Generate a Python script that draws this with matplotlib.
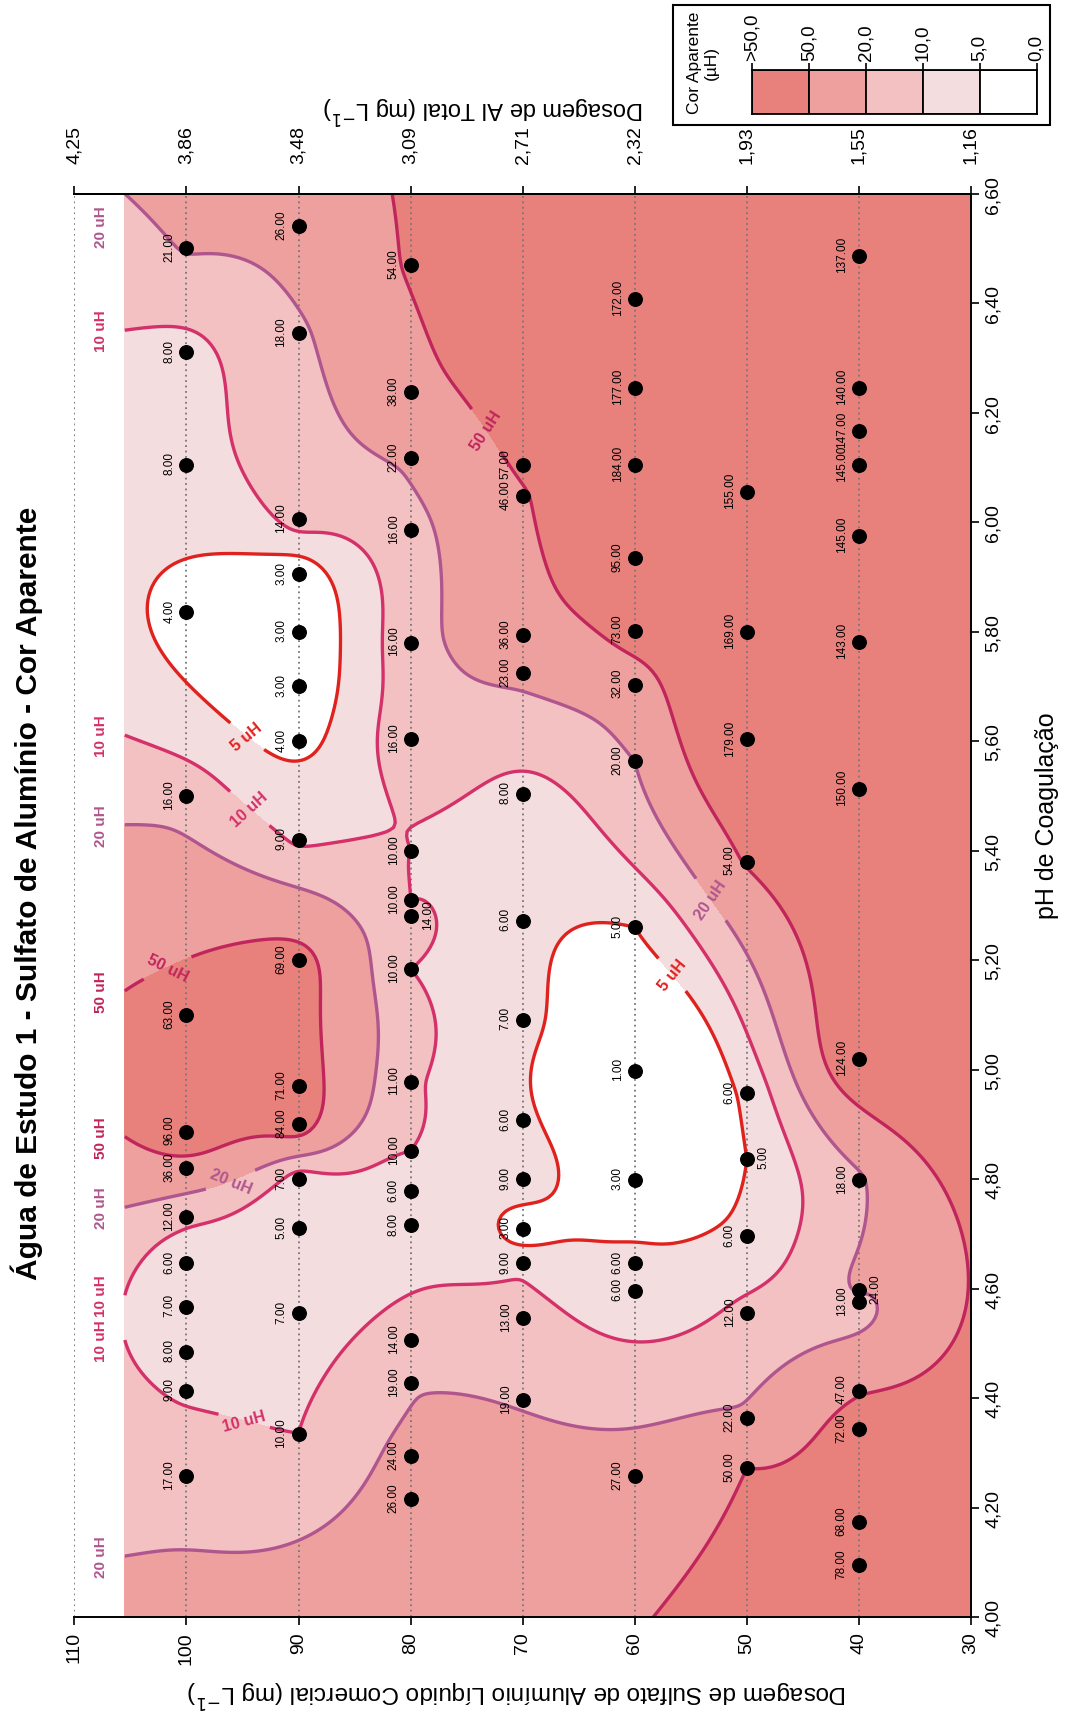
import numpy as np
import matplotlib
matplotlib.use("Agg")
import matplotlib.pyplot as plt
from matplotlib.patches import Rectangle

# ---------------- data ----------------
dose_100_ph = [6.50, 6.31, 6.105, 5.835, 5.50, 5.10, 4.887, 4.82, 4.73, 4.646, 4.567, 4.485, 4.414, 4.257]
dose_100_val = [21, 8, 8, 4, 16, 63, 96, 36, 12, 6, 7, 8, 9, 17]

dose_90_ph = [6.54, 6.345, 6.005, 5.905, 5.80, 5.70, 5.60, 5.42, 5.20, 4.97, 4.90, 4.80, 4.71, 4.555, 4.335]
dose_90_val = [26, 18, 14, 3, 3, 3, 4, 9, 69, 71, 84, 7, 5, 7, 10]

dose_80_ph = [6.47, 6.237, 6.117, 5.985, 5.78, 5.604, 5.40, 5.31, 5.281, 5.183, 4.978, 4.851, 4.778, 4.716,
              4.506, 4.427, 4.294, 4.216]
dose_80_val = [54, 38, 22, 16, 16, 16, 10, 10, 14, 10, 11, 10, 6, 8, 14, 19, 24, 26]

dose_70_ph = [6.105, 6.047, 5.794, 5.724, 5.504, 5.272, 5.091, 4.908, 4.80, 4.709, 4.646, 4.546, 4.397]
dose_70_val = [57, 46, 36, 23, 8, 6, 7, 6, 9, 3, 9, 13, 19]

dose_60_ph = [6.408, 6.245, 6.105, 5.934, 5.802, 5.703, 5.563, 5.26, 4.998, 4.799, 4.647, 4.596, 4.257]
dose_60_val = [172, 177, 184, 95, 73, 32, 20, 5, 1, 3, 6, 6, 27]

dose_50_ph = [6.055, 5.80, 5.603, 5.38, 4.957, 4.837, 4.696, 4.555, 4.364, 4.273]
dose_50_val = [155, 169, 179, 54, 6, 5, 6, 12, 22, 50]

dose_40_ph = [6.486, 6.245, 6.167, 6.105, 5.975, 5.781, 5.513, 5.02, 4.799, 4.598, 4.576, 4.414, 4.344,
              4.173, 4.095]
dose_40_val = [137, 140, 147, 145, 145, 143, 150, 124, 18, 24, 13, 47, 72, 68, 78]

dose_ticks = [30, 40, 50, 60, 70, 80, 90, 100, 110]
al_labels = ["1,16", "1,55", "1,93", "2,32", "2,71", "3,09", "3,48", "3,86", "4,25"]
ph_ticks = [4.0, 4.2, 4.4, 4.6, 4.8, 5.0, 5.2, 5.4, 5.6, 5.8, 6.0, 6.2, 6.4, 6.6]
ph_labels = ["4,00", "4,20", "4,40", "4,60", "4,80", "5,00", "5,20", "5,40", "5,60", "5,80",
             "6,00", "6,20", "6,40", "6,60"]
contour_levels = [5, 10, 20, 50]
legend_labels = [">50,0", "50,0", "20,0", "10,0", "5,0", "0,0"]

fill_colors = ["#FFFFFF", "#F3DDDE", "#F3C1C2", "#EEA09F", "#E8807C"]
line_colors = ["#E0221F", "#D4306A", "#B0568E", "#C0265C"]

# value labels drawn on the right-hand side of their point (style only)
labels_on_right = {(80, 5.281), (40, 4.598), (50, 4.837)}

FONT = ["Liberation Sans Narrow", "Liberation Sans", "DejaVu Sans"]
plt.rcParams["font.family"] = FONT

# ---------------- assemble points ----------------
groups = [(100, dose_100_ph, dose_100_val), (90, dose_90_ph, dose_90_val), (80, dose_80_ph, dose_80_val),
          (70, dose_70_ph, dose_70_val), (60, dose_60_ph, dose_60_val), (50, dose_50_ph, dose_50_val),
          (40, dose_40_ph, dose_40_val)]
D = np.concatenate([[d] * len(p) for d, p, v in groups]).astype(float)
P = np.concatenate([p for d, p, v in groups]).astype(float)
V = np.concatenate([v for d, p, v in groups]).astype(float)


def to_uv(d, p):
    return np.column_stack([np.ravel(d) * (897.0 / 80.0) / 1424.0, np.ravel(p) / 2.6])


# ordinary kriging, linear variogram (on log10 values)
X = to_uv(D, P)
n = len(X)
G = np.sqrt(((X[:, None, :] - X[None, :, :]) ** 2).sum(-1))
A = np.zeros((n + 1, n + 1))
A[:n, :n] = G
A[:n, n] = 1
A[n, :n] = 1
sol = np.linalg.solve(A, np.append(np.log10(V), 0.0))
w, c0 = sol[:n], sol[n]

gd = np.linspace(30, 105.5, 320)
gp = np.linspace(4.0, 6.6, 320)
GD, GP = np.meshgrid(gd, gp)
Xg = to_uv(GD, GP)
Gg = np.sqrt(((Xg[:, None, :] - X[None, :, :]) ** 2).sum(-1))
Z = (Gg @ w + c0).reshape(GD.shape)

# ---------------- figure ----------------
fig = plt.figure(figsize=(10.65, 17.15), dpi=100)
ax = fig.add_axes([74.4 / 1065, 1 - 1618.2 / 1715, (970.9 - 74.4) / 1065, (1618.2 - 194.6) / 1715])

lv = np.log10(contour_levels)
ax.contourf(GD, GP, Z, levels=np.concatenate([[-10], lv, [10]]), colors=fill_colors, zorder=0)

for d in dose_ticks[1:]:
    ax.plot([d, d], [4.0, 6.6], ls=(0, (1, 2)), color="#777777", lw=1.3, zorder=1)

cs = ax.contour(GD, GP, Z, levels=lv, colors=line_colors, linewidths=2.4, zorder=2)
fmt = {lev: f"{c} uH" for lev, c in zip(cs.levels, contour_levels)}
cl = ax.clabel(cs, fmt=fmt, fontsize=11.5, inline=True, inline_spacing=4)
for t in cl:
    t.set_fontweight("bold")

# edge labels at the open (high dosage) border
for i, segs in enumerate(cs.allsegs):
    for seg in segs:
        for end in (seg[0], seg[-1]):
            if abs(end[0] - gd.max()) < 1e-6:
                ypos = min(max(end[1], 4.06), 6.54)
                ax.text(107.6, ypos, f"{contour_levels[i]} uH", rotation=90, color=line_colors[i],
                        ha="center", va="center", fontsize=11, fontweight="bold", zorder=4)

ax.scatter(D, P, s=95, color="black", zorder=3)
for d, p, v in zip(D, P, V):
    dx = 17 if (int(d), round(p, 3)) in labels_on_right else -17
    ax.annotate(f"{v:.2f}", (d, p), xytext=(dx, 2), textcoords="offset pixels", rotation=90,
                ha="center", va="center", fontsize=8.5, zorder=4)

ax.set_xlim(110, 30)
ax.set_ylim(4.0, 6.6)
ax.set_xticks(dose_ticks, labels=[str(t) for t in dose_ticks])
ax.yaxis.tick_right()
ax.set_yticks(ph_ticks, labels=ph_labels)
ax.tick_params(axis="x", rotation=90, labelsize=14, length=6, width=1.2, pad=4)
ax.tick_params(axis="y", rotation=90, labelsize=14, length=6, width=1.2, pad=4)
for lab in ax.get_yticklabels():
    lab.set_va("center")
ax.spines["left"].set_visible(False)
for s in ("top", "bottom", "right"):
    ax.spines[s].set_linewidth(1.4)

sec = ax.secondary_xaxis("top")
sec.set_xticks(dose_ticks, labels=al_labels)
sec.tick_params(axis="x", rotation=90, labelsize=14, length=6, width=1.2, pad=16)
sec.spines["top"].set_linewidth(1.4)

# ---------------- texts ----------------
fig.text(27 / 1065, 1 - 893 / 1715, "Água de Estudo 1 - Sulfato de Alumínio - Cor Aparente", rotation=90,
         fontsize=21.5, fontweight="bold", ha="center", va="center", family=["Liberation Sans", "DejaVu Sans"])
fig.text(1047 / 1065, 1 - 816 / 1715, "pH de Coagulação", rotation=90, fontsize=18, ha="center", va="center")
fig.text(517 / 1065, 1 - 1693 / 1715, r"Dosagem de Sulfato de Alumínio Líquido Comercial (mg L$^{-1}$)",
         rotation=180, fontsize=17.5, ha="center", va="center")
fig.text(483 / 1065, 1 - 109 / 1715, r"Dosagem de Al Total (mg L$^{-1}$)", rotation=180, fontsize=17,
         ha="center", va="center")

# ---------------- legend ----------------
fig.patches.append(Rectangle((672.5 / 1065, 1 - 125.7 / 1715), 377.2 / 1065, 120.2 / 1715,
                             transform=fig.transFigure, fill=False, edgecolor="black", lw=1.5))
fig.text(703 / 1065, 1 - 63 / 1715, "Cor Aparente\n(µH)", rotation=90, fontsize=12.5, ha="center", va="center",
         multialignment="center")
lax = fig.add_axes([752 / 1065, 1 - 114.8 / 1715, 284.6 / 1065, 43.8 / 1715])
for i, c in enumerate(fill_colors[::-1]):
    lax.bar(i, 1, width=1, color=c, edgecolor="black", lw=1.3)
lax.set_xlim(-0.5, 4.5)
lax.set_ylim(0, 1)
lax.set_yticks([])
lax.xaxis.tick_top()
lax.set_xticks(np.arange(-0.5, 5.0, 1.0), labels=legend_labels)
lax.tick_params(axis="x", rotation=90, labelsize=13.5, length=5, width=1.2, pad=2)
for s in lax.spines.values():
    s.set_linewidth(1.3)

fig.savefig("out.png", dpi=100)
